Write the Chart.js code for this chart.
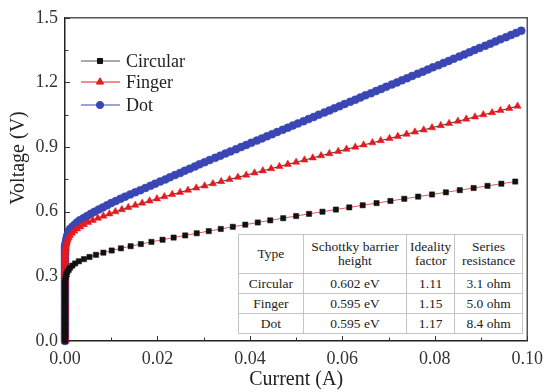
<!DOCTYPE html>
<html>
<head>
<meta charset="utf-8">
<script src="https://cdn.jsdelivr.net/npm/chart.js@4.4.0/dist/chart.umd.min.js"></script>
<style>
body { margin: 0; background: #fff; }
#wrap { position: relative; width: 550px; height: 392px; }
#fits { position: absolute; left: 238px; top: 234px; width: 285px; border-collapse: collapse; background: #fff;
  font: 13.5px "Liberation Serif", serif; color: #222; text-align: center; }
#fits td { border: 1px solid #c4c4c4; padding: 0; line-height: 14px; }
</style>
</head>
<body>
<div id="wrap">
  <canvas id="myChart" width="550" height="392"></canvas>
  <table id="fits"></table>
</div>
<script>
// voltage sweep (V), one step per measured point
var sweepVoltage = [
  0.00,0.01,0.02,0.03,0.04,0.05,0.06,0.07,0.08,0.09,
  0.10,0.11,0.12,0.13,0.14,0.15,0.16,0.17,0.18,0.19,
  0.20,0.21,0.22,0.23,0.24,0.25,0.26,0.27,0.28,0.29,
  0.30,0.31,0.32,0.33,0.34,0.35,0.36,0.37,0.38,0.39,
  0.40,0.41,0.42,0.43,0.44,0.45,0.46,0.47,0.48,0.49,
  0.50,0.51,0.52,0.53,0.54,0.55,0.56,0.57,0.58,0.59,
  0.60,0.61,0.62,0.63,0.64,0.65,0.66,0.67,0.68,0.69,
  0.70,0.71,0.72,0.73,0.74,0.75,0.76,0.77,0.78,0.79,
  0.80,0.81,0.82,0.83,0.84,0.85,0.86,0.87,0.88,0.89,
  0.90,0.91,0.92,0.93,0.94,0.95,0.96,0.97,0.98,0.99,
  1.00,1.01,1.02,1.03,1.04,1.05,1.06,1.07,1.08,1.09,
  1.10,1.11,1.12,1.13,1.14,1.15,1.16,1.17,1.18,1.19,
  1.20,1.21,1.22,1.23,1.24,1.25,1.26,1.27,1.28,1.29,
  1.30,1.31,1.32,1.33,1.34,1.35,1.36,1.37,1.38,1.39,
  1.40,1.41,1.42,1.43,1.44
];

// current (A), same order as sweepVoltage
var circularCurrent = [
  0,0,0,0,0,0,0,0,0,0,
  0,0,0,0,0,0,0,0,0,0,
  0,0,0,0,0,0,0,0,0,0.0001,
  0.0002,0.0003,0.0005,0.0008,0.0011,0.0016,0.0022,0.0030,0.0041,0.0053,
  0.0067,0.0083,0.0101,0.0121,0.0142,0.0164,0.0187,0.0211,0.0235,0.0260,
  0.0285,0.0311,0.0337,0.0363,0.0390,0.0417,0.0444,0.0472,0.0500,0.0528,
  0.0557,0.0586,0.0615,0.0644,0.0674,0.0704,0.0734,0.0764,0.0794,0.0824,
  0.0854,0.0884,0.0914,0.0944,0.0974
];
var fingerCurrent = [
  0,0,0,0,0,0,0,0,0,0,
  0,0,0,0,0,0,0,0,0,0,
  0,0,0,0,0,0,0,0,0,0,
  0,0,0,0,0,0,0,0,0,0,
  0,0.0001,0.0001,0.0002,0.0002,0.0003,0.0004,0.0006,0.0008,0.0011,
  0.0015,0.0020,0.0026,0.0033,0.0041,0.0050,0.0060,0.0071,0.0083,0.0096,
  0.0109,0.0123,0.0137,0.0152,0.0167,0.0183,0.0199,0.0215,0.0232,0.0249,
  0.0266,0.0284,0.0302,0.0320,0.0338,0.0356,0.0374,0.0392,0.0410,0.0428,
  0.0446,0.0464,0.0482,0.0500,0.0518,0.0536,0.0554,0.0572,0.0591,0.0609,
  0.0628,0.0646,0.0665,0.0683,0.0702,0.0720,0.0739,0.0757,0.0776,0.0794,
  0.0813,0.0831,0.0850,0.0868,0.0887,0.0905,0.0924,0.0942,0.0961,0.0979
];
var dotCurrent = [
  0,0,0,0,0,0,0,0,0,0,
  0,0,0,0,0,0,0,0,0,0,
  0,0,0,0,0,0,0,0,0,0,
  0,0,0,0,0,0,0,0,0,0,
  0,0,0,0,0,0.0001,0.0002,0.0003,0.0004,0.0005,
  0.0007,0.0009,0.0011,0.0016,0.0021,0.0026,0.0032,0.0040,0.0048,0.0056,
  0.0064,0.0073,0.0082,0.0091,0.0100,0.0110,0.0120,0.0130,0.0141,0.0152,
  0.0163,0.0174,0.0185,0.0195,0.0206,0.0217,0.0227,0.0238,0.0249,0.0259,
  0.0270,0.0281,0.0291,0.0302,0.0313,0.0325,0.0336,0.0347,0.0358,0.0370,
  0.0381,0.0392,0.0403,0.0415,0.0426,0.0437,0.0448,0.0459,0.0471,0.0482,
  0.0493,0.0504,0.0516,0.0527,0.0538,0.0549,0.0561,0.0572,0.0583,0.0594,
  0.0605,0.0617,0.0628,0.0639,0.0650,0.0662,0.0673,0.0684,0.0695,0.0707,
  0.0718,0.0729,0.0740,0.0751,0.0763,0.0774,0.0785,0.0796,0.0808,0.0819,
  0.0830,0.0841,0.0853,0.0864,0.0875,0.0886,0.0897,0.0909,0.0920,0.0931,
  0.0942,0.0954,0.0965,0.0976,0.0987
];

// fitted parameters shown in the inset table
var fitTypes = ["Circular", "Finger", "Dot"];
var barrierHeights = ["0.602 eV", "0.595 eV", "0.595 eV"];
var idealityFactors = ["1.11", "1.15", "1.17"];
var seriesResistances = ["3.1 ohm", "5.0 ohm", "8.4 ohm"];

function toPoints(current) {
  return current.map(function (c, i) { return { x: c, y: sweepVoltage[i] }; });
}

var serif = '"Liberation Serif", "Times New Roman", serif';

// table
var tbl = document.getElementById("fits");
var html = '<colgroup><col style="width:65px"><col style="width:104px"><col style="width:48px"><col style="width:68px"></colgroup>';
html += '<tr style="height:39px"><td>Type</td><td>Schottky barrier<br>height</td><td>Ideality<br>factor</td><td>Series<br>resistance</td></tr>';
for (var r = 0; r < fitTypes.length; r++) {
  html += '<tr style="height:20px"><td>' + fitTypes[r] + '</td><td>' + barrierHeights[r] + '</td><td>' +
    idealityFactors[r] + '</td><td>' + seriesResistances[r] + '</td></tr>';
}
tbl.innerHTML = html;

var legendItems = [
  { text: "Circular", line: "#555", fill: "#111", style: "rect", radius: 3.6, y: 61 },
  { text: "Finger", line: "#e8191e", fill: "#e8191e", style: "triangle", radius: 4.2, y: 82 },
  { text: "Dot", line: "#3a46b4", fill: "#3a46b4", style: "circle", radius: 3.6, y: 105 }
];

// frame on top/right plus inward ticks
var frameTicks = {
  id: "frameTicks",
  beforeDatasetsDraw: function (chart) {
    var ctx = chart.ctx, a = chart.chartArea;
    var xs = chart.scales.x, ys = chart.scales.y;
    ctx.save();
    ctx.strokeStyle = "#555";
    ctx.lineWidth = 1.5;
    ctx.beginPath();
    ctx.moveTo(a.left, a.top); ctx.lineTo(a.right, a.top); ctx.lineTo(a.right, a.bottom);
    ctx.stroke();
    ctx.strokeStyle = "#333";
    ctx.lineWidth = 1;
    xs.ticks.forEach(function (t, i) {
      var px = Math.round(xs.getPixelForValue(t.value)) + 0.5;
      var len = i % 2 === 0 ? 5 : 3.5;
      ctx.beginPath(); ctx.moveTo(px, a.bottom); ctx.lineTo(px, a.bottom - len); ctx.stroke();
    });
    ys.ticks.forEach(function (t, i) {
      var py = Math.round(ys.getPixelForValue(t.value)) + 0.5;
      var len = i % 2 === 0 ? 5 : 3.5;
      ctx.beginPath(); ctx.moveTo(a.left, py); ctx.lineTo(a.left + len, py); ctx.stroke();
    });
    ctx.restore();
  },
  afterDraw: function (chart) {
    var ctx = chart.ctx;
    ctx.save();
    // legend
    legendItems.forEach(function (it) {
      ctx.strokeStyle = it.line;
      ctx.lineWidth = 1;
      ctx.beginPath(); ctx.moveTo(81, it.y); ctx.lineTo(120, it.y); ctx.stroke();
      ctx.fillStyle = it.fill;
      ctx.strokeStyle = it.fill;
      Chart.helpers.drawPoint(ctx, { pointStyle: it.style, radius: it.radius, borderWidth: 0.5, rotation: 0 }, 100, it.y);
      ctx.fillStyle = "#222";
      ctx.font = "18px " + serif;
      ctx.textAlign = "left";
      ctx.textBaseline = "middle";
      ctx.fillText(it.text, 126, it.y + 1);
    });
    // y axis title
    ctx.translate(19, 158);
    ctx.rotate(-Math.PI / 2);
    ctx.font = "20px " + serif;
    ctx.textAlign = "center";
    ctx.textBaseline = "middle";
    ctx.fillStyle = "#222";
    ctx.fillText("Voltage (V)", 0, 0);
    ctx.restore();
  }
};

var data = {
  datasets: [
    {
      label: "Circular",
      data: toPoints(circularCurrent),
      borderColor: "#e05a5a",
      borderWidth: 1,
      pointStyle: "rect",
      pointRadius: 3.7,
      pointBackgroundColor: "#111",
      pointBorderColor: "#111",
      pointBorderWidth: 0.5,
      clip: false
    },
    {
      label: "Finger",
      data: toPoints(fingerCurrent),
      borderColor: "#333",
      borderWidth: 1,
      pointStyle: "triangle",
      pointRadius: 4.2,
      pointBackgroundColor: "#e8191e",
      pointBorderColor: "#e8191e",
      pointBorderWidth: 0.5,
      clip: false
    },
    {
      label: "Dot",
      data: toPoints(dotCurrent),
      borderColor: "#c0507a",
      borderWidth: 1,
      pointStyle: "circle",
      pointRadius: 4,
      pointBackgroundColor: "#3a46b4",
      pointBorderColor: "#3a46b4",
      pointBorderWidth: 0.5,
      clip: false
    }
  ]
};

var config = {
  type: "line",
  data: data,
  options: {
    responsive: false,
    animation: false,
    layout: { padding: { left: 0, right: 19, top: 15, bottom: 0 } },
    plugins: { legend: { display: false }, tooltip: { enabled: false } },
    scales: {
      x: {
        type: "linear",
        min: 0,
        max: 0.1,
        afterFit: function (s) { s.height = 51; },
        grid: { display: false, drawTicks: false },
        border: { display: true, color: "#222", width: 1.5 },
        ticks: {
          stepSize: 0.01,
          autoSkip: false,
          maxRotation: 0,
          padding: 7,
          color: "#333",
          font: { family: serif, size: 18 },
          callback: function (v, i) { return i % 2 === 0 ? Number(v).toFixed(2) : ""; }
        },
        title: { display: true, text: "Current (A)", color: "#222", font: { family: serif, size: 20 }, padding: { top: 0, bottom: 0 } }
      },
      y: {
        type: "linear",
        min: 0,
        max: 1.5,
        afterFit: function (s) { s.width = 65; },
        grid: { display: false, drawTicks: false },
        border: { display: true, color: "#222", width: 1.5 },
        ticks: {
          stepSize: 0.15,
          autoSkip: false,
          padding: 7,
          color: "#333",
          font: { family: serif, size: 18 },
          callback: function (v, i) { return i % 2 === 0 ? Number(v).toFixed(1) : ""; }
        }
      }
    }
  },
  plugins: [frameTicks]
};

var myChart = new Chart(document.getElementById("myChart"), config);
</script>
</body>
</html>
